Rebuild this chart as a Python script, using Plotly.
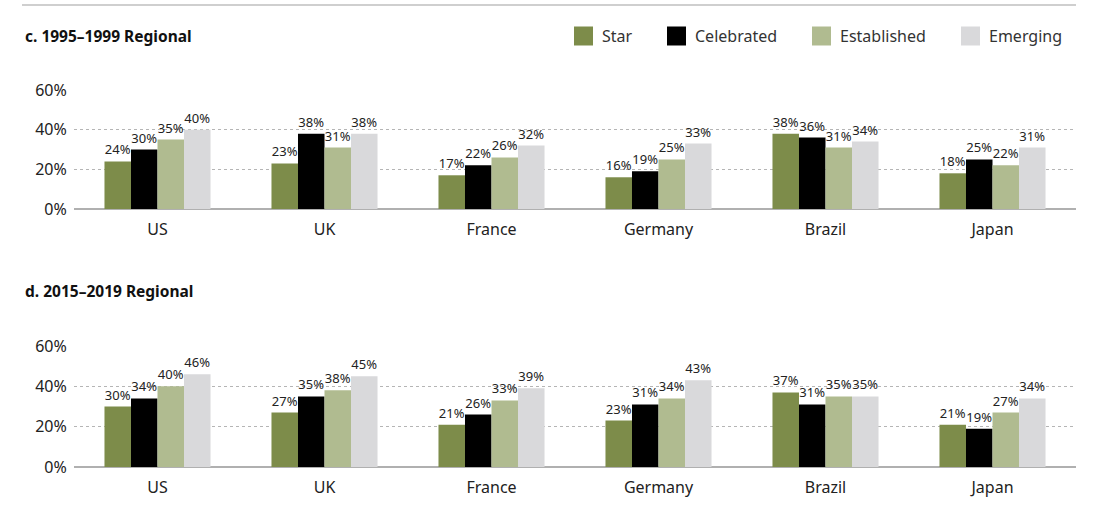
import plotly.graph_objects as go
from plotly.subplots import make_subplots

countries = ["US", "UK", "France", "Germany", "Brazil", "Japan"]
series_names = ["Star", "Celebrated", "Established", "Emerging"]
colors = ["#7d8c4a", "#000000", "#b0bb90", "#d9d9db"]

# c. 1995–1999 Regional
p1_star = [24, 23, 17, 16, 38, 18]
p1_celebrated = [30, 38, 22, 19, 36, 25]
p1_established = [35, 31, 26, 25, 31, 22]
p1_emerging = [40, 38, 32, 33, 34, 31]

# d. 2015–2019 Regional
p2_star = [30, 27, 21, 23, 37, 21]
p2_celebrated = [34, 35, 26, 31, 31, 19]
p2_established = [40, 38, 33, 34, 35, 27]
p2_emerging = [46, 45, 39, 43, 35, 34]

y_ticks = [0, 20, 40, 60]
y_ticktext = ["0%", "20%", "40%", "60%"]
titles = ["c. 1995–1999 Regional", "d. 2015–2019 Regional"]

W, H = 1094, 531
FONT = "Noto Sans, Open Sans, sans-serif"
NARROW = "Liberation Sans Narrow, Noto Sans, sans-serif"

fig = make_subplots(rows=2, cols=1)

panels = [
    [p1_star, p1_celebrated, p1_established, p1_emerging],
    [p2_star, p2_celebrated, p2_established, p2_emerging],
]
for r, panel in enumerate(panels, start=1):
    for name, vals, col in zip(series_names, panel, colors):
        fig.add_trace(
            go.Bar(
                x=countries, y=vals, name=name, marker=dict(color=col, line=dict(width=0)),
                text=vals, texttemplate="%{text}%", textposition="outside",
                textfont=dict(family=NARROW, size=13, color="#222"),
                constraintext="none", cliponaxis=False, showlegend=False,
                hoverinfo="skip",
            ),
            row=r, col=1,
        )

def py(pix):
    return 1 - pix / H

x_dom = [74 / W, 1076 / W]
fig.update_layout(
    width=W, height=H, margin=dict(l=0, r=0, t=0, b=0, autoexpand=False),
    paper_bgcolor="white", plot_bgcolor="white",
    barmode="group", bargap=0.365, bargroupgap=0,
    font=dict(family=FONT, color="#222"),
    xaxis=dict(domain=x_dom, anchor="y"),
    xaxis2=dict(domain=x_dom, anchor="y2"),
    yaxis=dict(domain=[py(209), py(90)], anchor="x"),
    yaxis2=dict(domain=[py(467), py(346)], anchor="x2"),
)
fig.update_xaxes(showgrid=False, showline=False, ticks="outside", ticklen=6,
                 tickcolor="rgba(0,0,0,0)", tickfont=dict(size=16, color="#222"),
                 automargin=False)
fig.update_yaxes(range=[0, 60], tickmode="array", tickvals=y_ticks, ticktext=y_ticktext,
                 showgrid=True, gridcolor="#b5b5b5", griddash="dot", gridwidth=1,
                 zeroline=True, zerolinecolor="#b0b0b0", zerolinewidth=2,
                 showline=False, ticks="outside", ticklen=3, tickcolor="rgba(0,0,0,0)",
                 tickfont=dict(size=16, color="#222"), automargin=False)

shapes = [dict(type="line", xref="paper", yref="paper", x0=22 / W, x1=1076 / W,
               y0=py(5), y1=py(5), line=dict(color="#cfcfcf", width=2))]
annotations = []
for t, ypix in zip(titles, [36, 291]):
    annotations.append(dict(text="<b>" + t + "</b>", xref="paper", yref="paper",
                            x=23 / W, y=py(ypix), xanchor="left", yanchor="middle",
                            showarrow=False, font=dict(size=15.5, color="#111", family=FONT)))

legend_sq = [574, 667, 812, 961]
for name, col, sx in zip(series_names, colors, legend_sq):
    shapes.append(dict(type="rect", xref="paper", yref="paper",
                       x0=sx / W, x1=(sx + 19) / W, y0=py(45.5), y1=py(26.5),
                       fillcolor=col, line=dict(width=0)))
    annotations.append(dict(text=name, xref="paper", yref="paper", x=(sx + 26) / W,
                            y=py(36), xanchor="left", yanchor="middle", showarrow=False,
                            font=dict(size=16, color="#333", family=FONT)))

fig.update_layout(shapes=shapes, annotations=annotations)
fig.write_html("out.html", config={"displayModeBar": False},
               post_script="document.body.style.margin='0';document.body.style.overflow='hidden';")
